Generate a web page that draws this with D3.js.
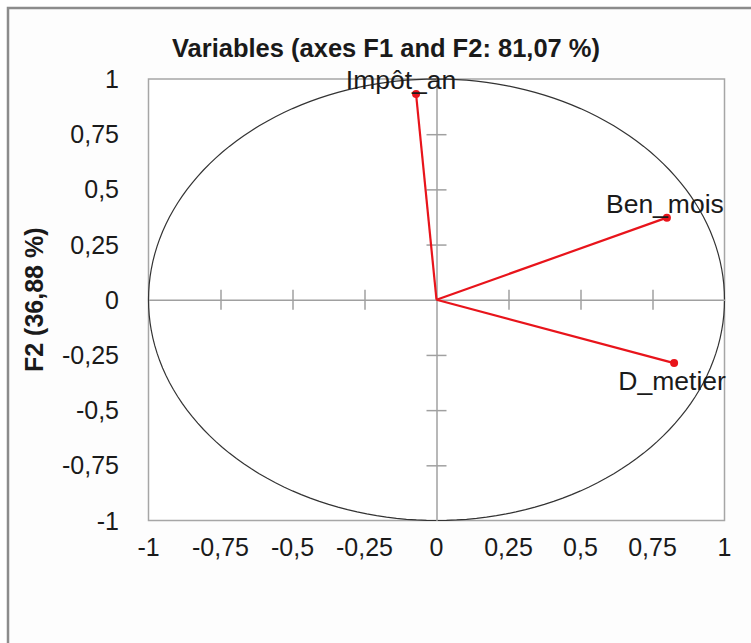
<!DOCTYPE html>
<html>
<head>
<meta charset="utf-8">
<script src="https://cdn.jsdelivr.net/npm/d3@7"></script>
<style>
body { margin: 0; background: #fff; }
text { font-family: "Liberation Sans", Arial, sans-serif; fill: #1a1a1a; }
</style>
</head>
<body>
<script>
// variables and their coordinates on F1 / F2
var varNames = ["Impôt_an", "Ben_mois", "D_metier"];
var f1Values = [-0.071, 0.80, 0.825];
var f2Values = [0.932, 0.372, -0.287];
var tickValues = [-1, -0.75, -0.5, -0.25, 0, 0.25, 0.5, 0.75, 1];
var titleText = "Variables (axes F1 and F2: 81,07 %)";
var yTitle = "F2 (36,88 %)";

var width = 751, height = 643;

var svg = d3.select("body").append("svg")
	.attr("width", width)
	.attr("height", height);

// outer chart border
svg.append("rect")
	.attr("x", 8).attr("y", 8)
	.attr("width", 760).attr("height", 660)
	.attr("fill", "#fdfdfd")
	.attr("stroke", "#8c8c8c")
	.attr("stroke-width", 2.5);

var x = d3.scaleLinear().domain([-1, 1]).range([148.5, 724.5]);
var y = d3.scaleLinear().domain([-1, 1]).range([520.5, 79]);

function fmt(v){ return String(v).replace(".", ","); }

// plot frame
svg.append("rect")
	.attr("x", x(-1)).attr("y", y(1))
	.attr("width", x(1) - x(-1)).attr("height", y(-1) - y(1))
	.attr("fill", "#fff")
	.attr("stroke", "#a6a6a6")
	.attr("stroke-width", 1.5);

// unit circle
var circlePts = d3.range(0, 361, 2).map(function(a){
	var r = a * Math.PI / 180;
	return [Math.cos(r), Math.sin(r)];
});
svg.append("path")
	.datum(circlePts)
	.attr("d", d3.line().x(function(d){ return x(d[0]); }).y(function(d){ return y(d[1]); }))
	.attr("fill", "none")
	.attr("stroke", "#333")
	.attr("stroke-width", 1.2);

// axes through the origin, ticks crossing the line
var xAxis = d3.axisBottom(x).tickValues(tickValues).tickSizeInner(20).tickSizeOuter(0).tickFormat("");
var gx = svg.append("g").attr("transform", "translate(0," + (y(0) - 10) + ")").call(xAxis);
gx.select(".domain").attr("transform", "translate(0,10)");
gx.selectAll(".tick").filter(function(d){ return d === -1 || d === 1 || d === 0; }).remove();

var yAxis = d3.axisRight(y).tickValues(tickValues).tickSizeInner(20).tickSizeOuter(0).tickFormat("");
var gy = svg.append("g").attr("transform", "translate(" + (x(0) - 10) + ",0)").call(yAxis);
gy.select(".domain").attr("transform", "translate(10,0)");
gy.selectAll(".tick").filter(function(d){ return d === -1 || d === 1 || d === 0; }).remove();

svg.selectAll(".domain, .tick line").attr("stroke", "#a0a0a0").attr("stroke-width", 1.5);

// tick labels
svg.selectAll(".ylab").data(tickValues).enter().append("text")
	.attr("x", 119).attr("y", function(d){ return y(d); })
	.attr("dy", "0.36em")
	.attr("text-anchor", "end")
	.attr("font-size", 25)
	.text(fmt);

svg.selectAll(".xlab").data(tickValues).enter().append("text")
	.attr("x", function(d){ return x(d); }).attr("y", 556)
	.attr("text-anchor", "middle")
	.attr("font-size", 25)
	.text(fmt);

// vectors
var pts = varNames.map(function(n, i){ return {name: n, f1: f1Values[i], f2: f2Values[i]}; });

svg.selectAll(".vec").data(pts).enter().append("line")
	.attr("x1", x(0)).attr("y1", y(0))
	.attr("x2", function(d){ return x(d.f1); })
	.attr("y2", function(d){ return y(d.f2); })
	.attr("stroke", "#e8141b")
	.attr("stroke-width", 2.2);

svg.selectAll(".dot").data(pts).enter().append("circle")
	.attr("cx", function(d){ return x(d.f1); })
	.attr("cy", function(d){ return y(d.f2); })
	.attr("r", 4)
	.attr("fill", "#e8141b");

// label above the point, or below it when F2 < 0; the top one is nudged left
svg.selectAll(".vlab").data(pts).enter().append("text")
	.attr("x", function(d){ return x(d.f1) + (d.f2 > 0.8 ? -15 : -2); })
	.attr("y", function(d){ return d.f2 < 0 ? y(d.f2) + 27 : y(d.f2) - 5; })
	.attr("text-anchor", "middle")
	.attr("font-size", 26.5)
	.text(function(d){ return d.name; });

// titles
svg.append("text")
	.attr("x", 386).attr("y", 57)
	.attr("text-anchor", "middle")
	.attr("font-size", 25.5)
	.attr("font-weight", "bold")
	.text(titleText);

svg.append("text")
	.attr("transform", "translate(43," + y(0) + ") rotate(-90)")
	.attr("text-anchor", "middle")
	.attr("font-size", 25)
	.attr("font-weight", "bold")
	.text(yTitle);
</script>
</body>
</html>
